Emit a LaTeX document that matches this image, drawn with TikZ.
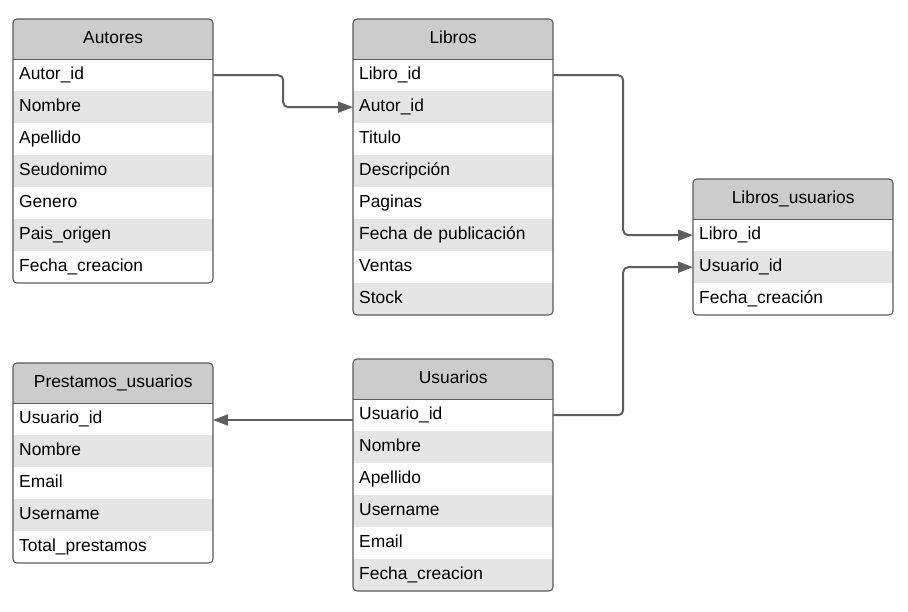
\documentclass[tikz,border=0pt]{standalone}
\usepackage{fontspec}
\setmainfont{Liberation Sans}
\usetikzlibrary{arrows.meta,calc}
\definecolor{hdrgray}{HTML}{CCCCCC}
\definecolor{altgray}{HTML}{E5E5E5}
\definecolor{bordergray}{HTML}{5A5A5A}
\definecolor{linkgray}{HTML}{5E5E5E}
\tikzset{
  cell/.style={anchor=north west, minimum width=200pt, minimum height=32pt,
    text width=188pt, inner xsep=6pt, inner ysep=0pt, align=left,
    text height=12.5pt, text depth=3.5pt,
    font=\fontsize{17.4}{20}\selectfont, text=black},
  hdr/.style={anchor=north west, minimum width=200pt, minimum height=40pt,
    inner sep=0pt, fill=hdrgray, text height=12.5pt, text depth=3.5pt,
    font=\fontsize{17.4}{20}\selectfont},
  plain/.style={cell, fill=white},
  shaded/.style={cell, fill=altgray},
  frame/.style={draw=bordergray, line width=1.1pt, rounded corners=4pt},
  hline/.style={draw=bordergray, line width=1.1pt},
  link/.style={draw=linkgray, line width=2pt, rounded corners=5pt,
    -{Triangle[length=15pt,width=11pt]}},
}
\begin{document}
\begin{tikzpicture}[x=1pt,y=-1pt]
\useasboundingbox (0,0) rectangle (908,612);

% ---------- Autores ----------
\begin{scope}
\clip[rounded corners=4pt] (13,19) rectangle (213,283);
\node[hdr] (au) at (13,19) {Autores};
\node[plain]  (au1) at (13,59)  {Autor\_id};
\node[shaded] (au2) at (13,91)  {Nombre};
\node[plain]  (au3) at (13,123) {Apellido};
\node[shaded] (au4) at (13,155) {Seudonimo};
\node[plain]  (au5) at (13,187) {Genero};
\node[shaded] (au6) at (13,219) {Pais\_origen};
\node[plain]  (au7) at (13,251) {Fecha\_creacion};
\end{scope}
\draw[hline] (au.south west) -- (au.south east);
\draw[frame] (13,19) rectangle (213,283);

% ---------- Libros ----------
\begin{scope}
\clip[rounded corners=4pt] (353,19) rectangle (553,315);
\node[hdr] (li) at (353,19) {Libros};
\node[plain]  (li1) at (353,59)  {Libro\_id};
\node[shaded] (li2) at (353,91)  {Autor\_id};
\node[plain]  (li3) at (353,123) {Titulo};
\node[shaded] (li4) at (353,155) {Descripción};
\node[plain]  (li5) at (353,187) {Paginas};
\node[shaded] (li6) at (353,219) {Fecha de publicación};
\node[plain]  (li7) at (353,251) {Ventas};
\node[shaded] (li8) at (353,283) {Stock};
\end{scope}
\draw[hline] (li.south west) -- (li.south east);
\draw[frame] (353,19) rectangle (553,315);

% ---------- Libros_usuarios ----------
\begin{scope}
\clip[rounded corners=4pt] (693,179) rectangle (893,315);
\node[hdr] (lu) at (693,179) {Libros\_usuarios};
\node[plain]  (lu1) at (693,219) {Libro\_id};
\node[shaded] (lu2) at (693,251) {Usuario\_id};
\node[plain]  (lu3) at (693,283) {Fecha\_creación};
\end{scope}
\draw[hline] (lu.south west) -- (lu.south east);
\draw[frame] (693,179) rectangle (893,315);

% ---------- Prestamos_usuarios ----------
\begin{scope}
\clip[rounded corners=4pt] (13,363) rectangle (213,563);
\node[hdr] (pu) at (13,363) {Prestamos\_usuarios};
\node[plain]  (pu1) at (13,403) {Usuario\_id};
\node[shaded] (pu2) at (13,435) {Nombre};
\node[plain]  (pu3) at (13,467) {Email};
\node[shaded] (pu4) at (13,499) {Username};
\node[plain]  (pu5) at (13,531) {Total\_prestamos};
\end{scope}
\draw[hline] (pu.south west) -- (pu.south east);
\draw[frame] (13,363) rectangle (213,563);

% ---------- Usuarios ----------
\begin{scope}
\clip[rounded corners=4pt] (353,359) rectangle (553,591);
\node[hdr] (us) at (353,359) {Usuarios};
\node[plain]  (us1) at (353,399) {Usuario\_id};
\node[shaded] (us2) at (353,431) {Nombre};
\node[plain]  (us3) at (353,463) {Apellido};
\node[shaded] (us4) at (353,495) {Username};
\node[plain]  (us5) at (353,527) {Email};
\node[shaded] (us6) at (353,559) {Fecha\_creacion};
\end{scope}
\draw[hline] (us.south west) -- (us.south east);
\draw[frame] (353,359) rectangle (553,591);

% ---------- connectors ----------
\coordinate (m1) at ($(au1.east)!0.5!(li2.west)$);
\draw[link] (au1.east) -| (m1) |- (li2.west);
\coordinate (m2) at ($(li1.east)!0.5!(lu1.west)$);
\draw[link] (li1.east) -| (m2) |- (lu1.west);
\coordinate (m3) at ($(us1.east)!0.5!(lu2.west)$);
\draw[link] (us1.east) -| (m3) |- (lu2.west);
\coordinate (u0) at (353,420);
\coordinate (p0) at (213,420);
\draw[link] (u0) -- (p0);
\end{tikzpicture}
\end{document}
